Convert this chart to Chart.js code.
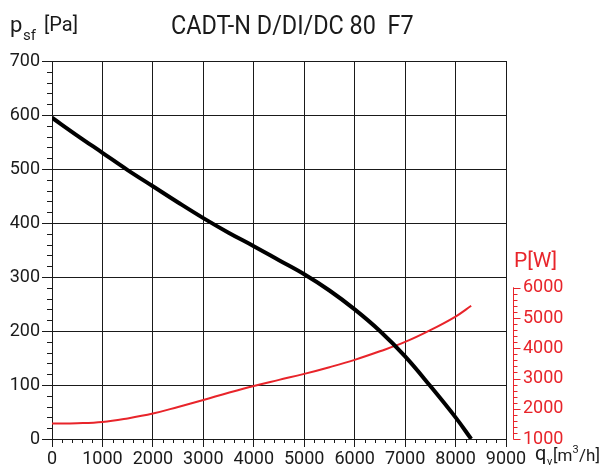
<!DOCTYPE html>
<html>
<head>
<meta charset="utf-8">
<script src="https://cdn.jsdelivr.net/npm/chart.js@4/dist/chart.umd.min.js"></script>
<style>
  html, body { margin: 0; padding: 0; background: #fff; }
  #wrap { width: 606px; height: 472px; }
</style>
</head>
<body>
<div id="wrap"><canvas id="fanChart" width="606" height="472"></canvas></div>
<script>
// 风量 q_v [m3/h]
const flowPressure = [0, 500, 1000, 1500, 2000, 2500, 3000, 3500, 4000, 4500, 5000, 5500, 6000, 6500, 7000, 7500, 8000, 8310];
// 静压 p_sf [Pa]
const pressure = [595, 562, 530, 498, 468, 438, 409, 382, 357, 331, 305, 275, 240, 200, 153, 98, 40, 0];

const flowPower = [0, 500, 1000, 1500, 2000, 2500, 3000, 3500, 4000, 4500, 5000, 5500, 6000, 6500, 7000, 7500, 8000, 8310];
// 功率 P [W]
const power = [1510, 1520, 1560, 1680, 1840, 2060, 2290, 2530, 2755, 2955, 3153, 3375, 3618, 3900, 4210, 4600, 5050, 5405];

const xTicks = [0, 1000, 2000, 3000, 4000, 5000, 6000, 7000, 8000, 9000];
const powerTicks = [1000, 2000, 3000, 4000, 5000, 6000];

const RED = 'rgb(232, 36, 42)';
const INK = '#1a1a1a';
const FONT = 'Roboto, "Noto Sans", sans-serif';

// 右侧红色坐标轴: 1000W 对应 0Pa, 6000W 对应 280Pa
const wattPerPa = (6000 - 1000) / 280;

// 次刻度, 红色功率轴, 标题和单位
const extraAxes = {
    id: 'extraAxes',
    afterDraw(chart) {
        const ctx = chart.ctx;
        const x = chart.scales.x, y = chart.scales.y, y1 = chart.scales.y1;
        const area = chart.chartArea;
        ctx.save();
        ctx.lineWidth = 1;
        ctx.strokeStyle = INK;
        ctx.beginPath();
        for (let v = 0; v <= 700; v += 20) {
            if (v % 100 === 0) continue;
            const py = Math.round(y.getPixelForValue(v)) + 0.5;
            ctx.moveTo(area.left - 5, py);
            ctx.lineTo(area.left, py);
        }
        for (let v = 0; v <= 9000; v += 200) {
            if (v % 1000 === 0) continue;
            const px = Math.round(x.getPixelForValue(v)) + 0.5;
            ctx.moveTo(px, area.bottom);
            ctx.lineTo(px, area.bottom + 4);
        }
        ctx.stroke();

        // 红色轴线
        const ax = Math.round(area.right + 7) + 0.5;
        ctx.strokeStyle = RED;
        ctx.beginPath();
        ctx.moveTo(ax, y1.getPixelForValue(powerTicks[0]) + 0.5);
        ctx.lineTo(ax, y1.getPixelForValue(powerTicks[powerTicks.length - 1]) - 0.5);
        for (let v = powerTicks[0]; v <= powerTicks[powerTicks.length - 1]; v += 200) {
            const py = Math.round(y1.getPixelForValue(v)) + 0.5;
            ctx.moveTo(ax, py);
            ctx.lineTo(ax + (v % 1000 === 0 ? 7 : 4), py);
        }
        ctx.stroke();

        ctx.fillStyle = INK;
        ctx.textBaseline = 'alphabetic';
        ctx.textAlign = 'left';

        // 标题 (字体略窄)
        ctx.save();
        ctx.translate(171, 34);
        ctx.scale(0.9, 1);
        ctx.font = '26px ' + FONT;
        ctx.fillText('CADT-N D/DI/DC 80  F7', 0, 0);
        ctx.restore();

        ctx.font = '22px ' + FONT;
        ctx.fillText('p', 10, 32);
        ctx.font = '15px ' + FONT;
        ctx.fillText('sf', 23, 40);
        ctx.font = '20px ' + FONT;
        ctx.fillText('[Pa]', 44, 31);

        ctx.font = '20px ' + FONT;
        ctx.fillText('q', 535, 460);
        ctx.font = '11px ' + FONT;
        ctx.fillText('v', 547, 465);
        ctx.font = '17px ' + FONT;
        ctx.fillText('[m', 553, 461);
        let w = ctx.measureText('[m').width;
        ctx.font = '11px ' + FONT;
        ctx.fillText('3', 553 + w, 453);
        let w2 = ctx.measureText('3').width;
        ctx.font = '17px ' + FONT;
        ctx.fillText('/h]', 553 + w + w2 + 0.5, 461);

        ctx.fillStyle = RED;
        ctx.font = '21px ' + FONT;
        ctx.fillText('P[W]', 514, 267);
        ctx.restore();
    }
};

new Chart(document.getElementById('fanChart'), {
    type: 'line',
    data: {
        datasets: [{
            label: 'p_sf',
            data: flowPressure.map((q, i) => ({ x: q, y: pressure[i] })),
            borderColor: '#000',
            borderWidth: 4,
            pointRadius: 0,
            tension: 0.4,
            yAxisID: 'y'
        }, {
            label: 'P',
            data: flowPower.map((q, i) => ({ x: q, y: power[i] })),
            borderColor: RED,
            borderWidth: 2,
            pointRadius: 0,
            tension: 0.4,
            yAxisID: 'y1'
        }]
    },
    options: {
        responsive: false,
        animation: false,
        layout: { padding: { left: 0, right: 0, top: 61, bottom: 0 } },
        plugins: {
            legend: { display: false },
            title: { display: false },
            tooltip: { enabled: false }
        },
        scales: {
            x: {
                type: 'linear',
                min: 0,
                max: 9000,
                afterBuildTicks: s => { s.ticks = xTicks.map(v => ({ value: v })); },
                afterFit: s => { s.height = 33; },
                grid: { color: INK, lineWidth: 1, tickLength: 8, tickColor: INK },
                border: { color: INK, width: 1 },
                ticks: {
                    color: INK, padding: 2, maxRotation: 0,
                    font: { family: FONT, size: 18 },
                    callback: v => String(v)
                }
            },
            y: {
                min: 0,
                max: 700,
                ticks: {
                    stepSize: 100, color: INK, padding: 2,
                    font: { family: FONT, size: 18 },
                    callback: v => String(v)
                },
                afterFit: s => { s.width = 52; },
                grid: { color: INK, lineWidth: 1, tickLength: 10, tickColor: INK },
                border: { color: INK, width: 1 }
            },
            y1: {
                position: 'right',
                min: 1000,
                max: 1000 + 700 * wattPerPa,
                afterBuildTicks: s => { s.ticks = powerTicks.map(v => ({ value: v })); },
                afterFit: s => { s.width = 100; },
                grid: { display: false, drawTicks: false },
                border: { display: false },
                ticks: {
                    color: RED, padding: 17,
                    font: { family: FONT, size: 18 },
                    callback: v => String(v)
                }
            }
        }
    },
    plugins: [extraAxes]
});
</script>
</body>
</html>
